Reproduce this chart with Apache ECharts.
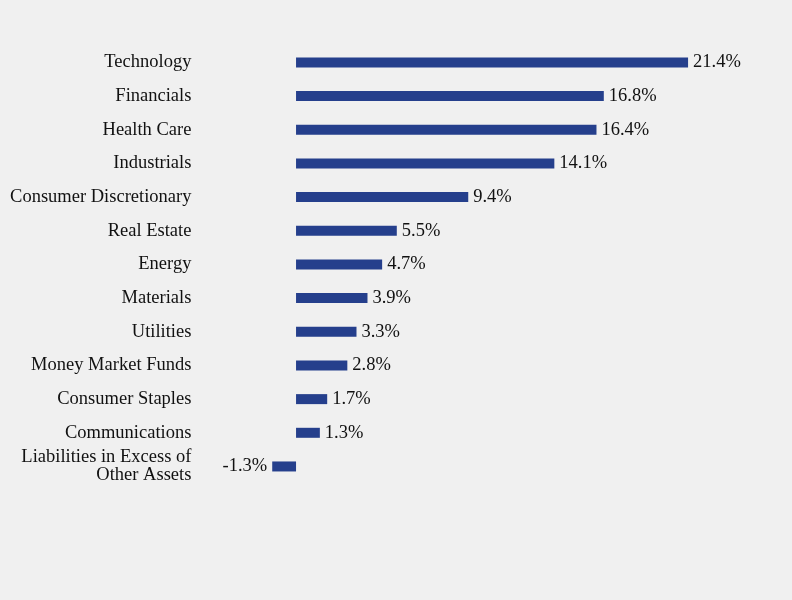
<!DOCTYPE html>
<html>
<head>
<meta charset="utf-8">
<script src="https://cdn.jsdelivr.net/npm/echarts@6/dist/echarts.min.js"></script>
<style>
  html, body { margin: 0; padding: 0; background: #f0f0f0; }
  #chart { width: 792px; height: 600px; }
</style>
</head>
<body>
<div id="chart"></div>
<script>
const sectors = [
  'Technology', 'Financials', 'Health Care', 'Industrials', 'Consumer Discretionary',
  'Real Estate', 'Energy', 'Materials', 'Utilities', 'Money Market Funds',
  'Consumer Staples', 'Communications', 'Liabilities in Excess of\nOther Assets'
];
const weights = [21.4, 16.8, 16.4, 14.1, 9.4, 5.5, 4.7, 3.9, 3.3, 2.8, 1.7, 1.3, -1.3];

const chart = echarts.init(document.getElementById('chart'));
chart.setOption({
  backgroundColor: '#f0f0f0',
  animation: false,
  grid: { left: 259.4, width: 476.3, top: 45.6, height: 437.7 },
  xAxis: {
    type: 'value',
    min: -2,
    max: 24,
    show: false
  },
  yAxis: {
    type: 'category',
    inverse: true,
    data: sectors,
    axisLine: { show: false },
    axisTick: { show: false },
    axisLabel: {
      margin: 68,
      color: '#111',
      fontFamily: 'Liberation Serif',
      fontSize: 18.5,
      lineHeight: 18,
      align: 'right',
      padding: [3, 0, 0, 0]
    }
  },
  series: [{
    type: 'bar',
    barWidth: 10,
    itemStyle: { color: '#253f8c' },
    data: weights.map(v => ({
      value: v,
      label: { position: v < 0 ? 'left' : 'right' }
    })),
    label: {
      show: true,
      distance: 5,
      color: '#111',
      fontFamily: 'Liberation Serif',
      fontSize: 18.5,
      padding: [3, 0, 0, 0],
      formatter: p => p.value.toFixed(1) + '%'
    }
  }]
});
</script>
</body>
</html>
